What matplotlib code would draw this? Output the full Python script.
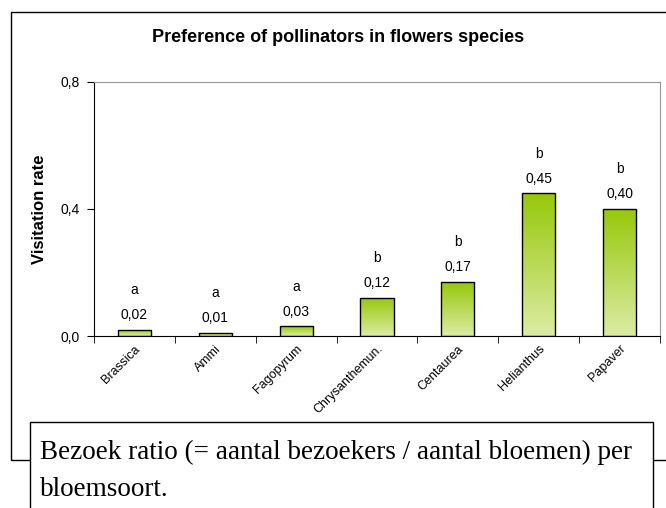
import numpy as np
import matplotlib
matplotlib.use("Agg")
import matplotlib.pyplot as plt
from matplotlib.patches import Rectangle
from matplotlib.colors import LinearSegmentedColormap
from matplotlib.ticker import FixedLocator

categories = ["Brassica", "Ammi", "Fagopyrum", "Chrysanthemun.", "Centaurea", "Helianthus", "Papaver"]
values = [0.02, 0.01, 0.03, 0.12, 0.17, 0.45, 0.40]
value_labels = ["0,02", "0,01", "0,03", "0,12", "0,17", "0,45", "0,40"]
groups = ["a", "a", "a", "b", "b", "b", "b"]
yticks = [0.0, 0.4, 0.8]
ytick_labels = ["0,0", "0,4", "0,8"]

W, H = 666, 508
fig = plt.figure(figsize=(W / 100, H / 100), dpi=100)
plt.rcParams['font.family'] = ['Liberation Sans', 'DejaVu Sans']

def fx(px):
    return px / W

def fy(py):
    return 1 - py / H

# outer chart border
fig.add_artist(Rectangle((fx(11), fy(460)), fx(700) - fx(11), fy(12) - fy(460),
                         transform=fig.transFigure, fill=False, ec='black', lw=1.0, zorder=0))

ax = fig.add_axes([fx(94), fy(336), fx(660) - fx(94), fy(82) - fy(336)])
x = np.arange(len(categories))
bw = 0.41
bars = ax.bar(x, values, width=bw, color='none', edgecolor='black', linewidth=1.0, zorder=3)

cmap = LinearSegmentedColormap.from_list('g', ['#dcecA4', '#96c80a'])
grad = np.linspace(0, 1, 256).reshape(-1, 1)
for b in bars:
    x0, y0 = b.get_x(), b.get_y()
    w, h = b.get_width(), b.get_height()
    im = ax.imshow(grad, cmap=cmap, origin='lower', aspect='auto',
                   extent=[x0, x0 + w, y0, y0 + h], zorder=2)
    im.set_clip_path(b)

for xi, v, vl, g in zip(x, values, value_labels, groups):
    ax.annotate(vl, (xi, v), xytext=(0, 10.5), textcoords='offset points',
                ha='center', va='center', fontsize=10)
    ax.annotate(g, (xi, v), xytext=(0, 28.5), textcoords='offset points',
                ha='center', va='center', fontsize=10)

ax.set_xlim(-0.5, len(categories) - 0.5)
ax.set_ylim(0, 0.8)
ax.set_yticks(yticks)
ax.set_yticklabels(ytick_labels, fontsize=10)
ax.set_xticks(x)
ax.set_xticklabels(categories, rotation=45, ha='right', rotation_mode='anchor', fontsize=9)
ax.tick_params(axis='x', which='major', length=0, pad=5)
ax.xaxis.set_minor_locator(FixedLocator(np.arange(-0.5, len(categories), 1.0)))
ax.tick_params(axis='x', which='minor', length=5, direction='out', color='black')
ax.tick_params(axis='y', length=5, direction='out', pad=5)
for s in ['top', 'right']:
    ax.spines[s].set_color('#999999')
for s in ['left', 'bottom']:
    ax.spines[s].set_color('black')
ax.set_ylabel('Visitation rate', fontsize=12, fontweight='bold', labelpad=10)

fig.text(fx(338), fy(38), 'Preference of pollinators in flowers species',
         ha='center', va='center', fontsize=13, fontweight='bold')

# caption text box
fig.add_artist(Rectangle((fx(30), fy(540)), fx(653) - fx(30), fy(422) - fy(540),
                         transform=fig.transFigure, fc='white', ec='black', lw=1.0, zorder=5))
fig.text(fx(40), fy(452), 'Bezoek ratio (= aantal bezoekers / aantal bloemen) per',
         ha='left', va='center', fontsize=19.5, family=['Liberation Serif'], zorder=6)
fig.text(fx(40), fy(490), 'bloemsoort.', ha='left', va='center', fontsize=19.5,
         family=['Liberation Serif'], zorder=6)

fig.savefig('out.png', dpi=100)
